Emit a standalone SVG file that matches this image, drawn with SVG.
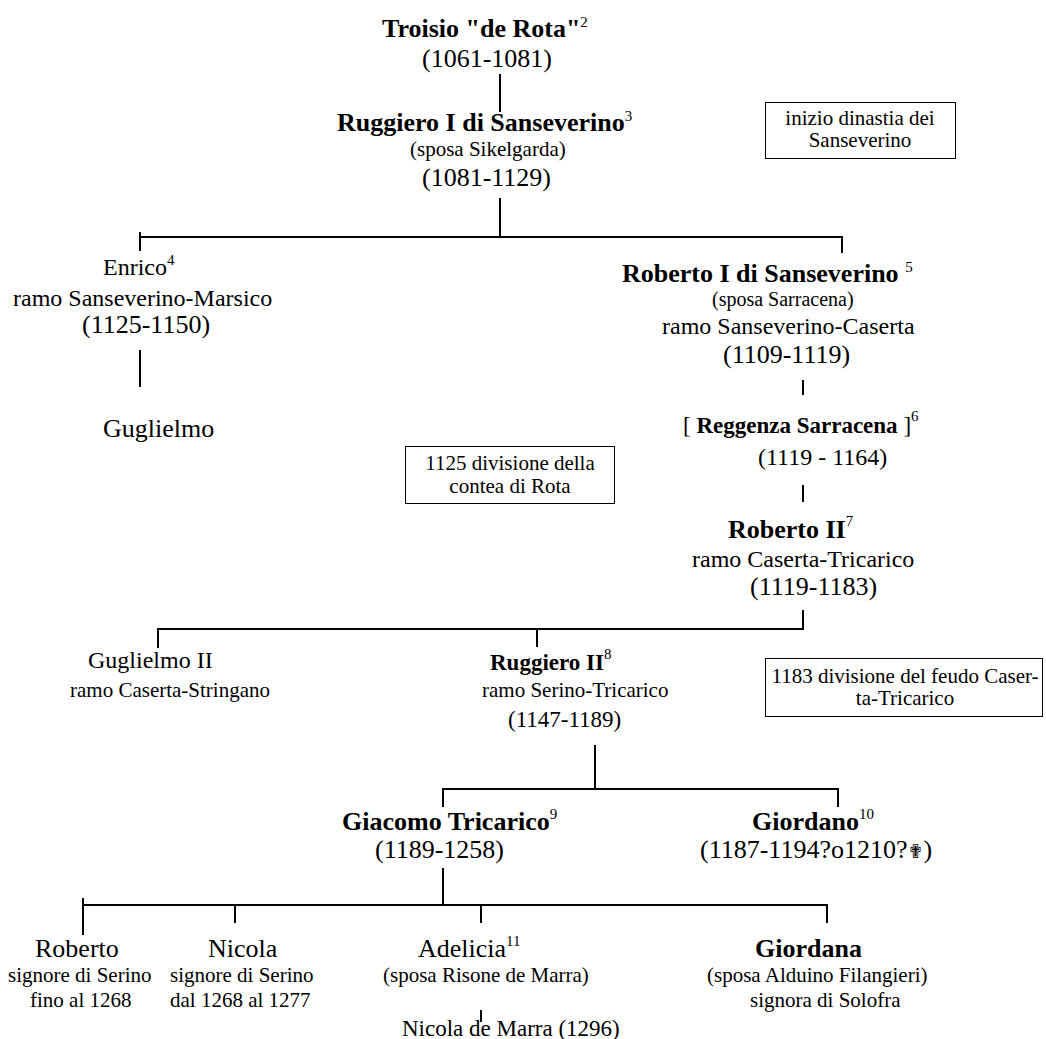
<svg xmlns="http://www.w3.org/2000/svg" width="1046" height="1039" viewBox="0 0 1046 1039">
<style>
text{font-family:"Liberation Serif","Times New Roman",serif;fill:#000}
.b{font-weight:bold;font-size:26px}
.r{font-size:24px}
.d{font-size:26px}
.s{font-size:21px}
.sup{font-size:15px;font-weight:normal}
.l{stroke:#000;stroke-width:2;fill:none}
.box{fill:#fff;stroke:#000;stroke-width:1}
</style>
<rect width="1046" height="1039" fill="#fff"/>
<g id="connectors">
<line class="l" x1="500" y1="74" x2="500" y2="112"/>
<line class="l" x1="500" y1="198" x2="500" y2="237"/>
<line class="l" x1="140" y1="237" x2="842" y2="237"/>
<line class="l" x1="140" y1="232" x2="140" y2="251"/>
<line class="l" x1="842" y1="236" x2="842" y2="253"/>
<line class="l" x1="140" y1="350" x2="140" y2="387"/>
<line class="l" x1="803" y1="380" x2="803" y2="395"/>
<line class="l" x1="803" y1="485" x2="803" y2="502"/>
<line class="l" x1="803" y1="610" x2="803" y2="630"/>
<line class="l" x1="158" y1="629" x2="803" y2="629"/>
<line class="l" x1="158" y1="628" x2="158" y2="648"/>
<line class="l" x1="537" y1="629" x2="537" y2="647"/>
<line class="l" x1="595" y1="745" x2="595" y2="789"/>
<line class="l" x1="443" y1="789" x2="838" y2="789"/>
<line class="l" x1="443" y1="788" x2="443" y2="807"/>
<line class="l" x1="838" y1="788" x2="838" y2="807"/>
<line class="l" x1="443" y1="868" x2="443" y2="905"/>
<line class="l" x1="83" y1="905" x2="827" y2="905"/>
<line class="l" x1="83" y1="898" x2="83" y2="935"/>
<line class="l" x1="235" y1="905" x2="235" y2="923"/>
<line class="l" x1="481" y1="905" x2="481" y2="923"/>
<line class="l" x1="827" y1="904" x2="827" y2="923"/>
<line class="l" x1="481" y1="1010" x2="481" y2="1022"/>
</g>
<g id="troisio">
<text x="382" y="37" class="b">Troisio "de Rota"<tspan class="sup" dy="-10">2</tspan></text>
<text x="422" y="67" class="d">(1061-1081)</text>
</g>
<g id="ruggiero1">
<text x="337" y="131" class="b">Ruggiero I di Sanseverino<tspan class="sup" dy="-10">3</tspan></text>
<text x="410" y="156" class="s">(sposa Sikelgarda)</text>
<text x="422" y="186" class="d">(1081-1129)</text>
</g>
<g id="note-inizio">
<rect class="box" x="765.5" y="102.5" width="190" height="56"/>
<text x="860" y="125" class="s" text-anchor="middle">inizio dinastia dei</text>
<text x="860" y="147" class="s" text-anchor="middle">Sanseverino</text>
</g>
<g id="enrico">
<text x="103" y="275" class="r">Enrico<tspan class="sup" dy="-10">4</tspan></text>
<text x="13" y="306" class="r">ramo Sanseverino-Marsico</text>
<text x="82" y="333" class="d">(1125-1150)</text>
</g>
<g id="guglielmo">
<text x="103" y="437" class="d">Guglielmo</text>
</g>
<g id="roberto1">
<text x="622" y="282" class="b">Roberto I di Sanseverino <tspan class="sup" dy="-10">5</tspan></text>
<text x="712" y="306" style="font-size:20px">(sposa Sarracena)</text>
<text x="662" y="334" class="r">ramo Sanseverino-Caserta</text>
<text x="723" y="363" class="d">(1109-1119)</text>
</g>
<g id="reggenza">
<text x="683" y="433" style="font-size:23px">[ <tspan font-weight="bold">Reggenza Sarracena</tspan> ]<tspan class="sup" dy="-12">6</tspan></text>
<text x="758" y="465" class="r">(1119 - 1164)</text>
</g>
<g id="note-1125">
<rect class="box" x="405.5" y="446.5" width="209" height="57"/>
<text x="510" y="470" class="s" text-anchor="middle">1125 divisione della</text>
<text x="510" y="493" class="s" text-anchor="middle">contea di Rota</text>
</g>
<g id="roberto2">
<text x="728" y="538" class="b">Roberto II<tspan class="sup" dy="-12">7</tspan></text>
<text x="692" y="567" class="r">ramo Caserta-Tricarico</text>
<text x="750" y="595" class="d">(1119-1183)</text>
</g>
<g id="guglielmo2">
<text x="88" y="668" class="r">Guglielmo II</text>
<text x="70" y="697" class="s">ramo Caserta-Stringano</text>
</g>
<g id="ruggiero2">
<text x="490" y="670" style="font-size:23px;font-weight:bold">Ruggiero II<tspan class="sup" dy="-11">8</tspan></text>
<text x="482" y="697" class="s">ramo Serino-Tricarico</text>
<text x="508" y="727" style="font-size:23px">(1147-1189)</text>
</g>
<g id="note-1183">
<rect class="box" x="765.5" y="658.5" width="277" height="58"/>
<text x="905" y="683" class="s" text-anchor="middle">1183 divisione del feudo Caser-</text>
<text x="905" y="705" class="s" text-anchor="middle">ta-Tricarico</text>
</g>
<g id="giacomo">
<text x="342" y="830" class="b">Giacomo Tricarico<tspan class="sup" dy="-11">9</tspan></text>
<text x="375" y="858" class="d">(1189-1258)</text>
</g>
<g id="giordano">
<text x="752" y="830" class="b">Giordano<tspan class="sup" dy="-11">10</tspan></text>
<text x="700" y="858" class="d">(1187-1194?o1210?<tspan font-family="DejaVu Sans" font-size="19px">✟</tspan>)</text>
</g>
<g id="roberto">
<text x="35" y="957" class="d">Roberto</text>
<text x="8" y="982" class="s">signore di Serino</text>
<text x="30" y="1007" class="s">fino al 1268</text>
</g>
<g id="nicola">
<text x="208" y="957" class="d">Nicola</text>
<text x="170" y="982" class="s">signore di Serino</text>
<text x="170" y="1007" class="s">dal 1268 al 1277</text>
</g>
<g id="adelicia">
<text x="418" y="957" class="d">Adelicia<tspan class="sup" dy="-11">11</tspan></text>
<text x="383" y="982" class="s">(sposa Risone de Marra)</text>
</g>
<g id="nicola-de-marra">
<text x="402" y="1036" style="font-size:23px">Nicola de Marra (1296)</text>
</g>
<g id="giordana">
<text x="755" y="957" class="b">Giordana</text>
<text x="707" y="982" class="s">(sposa Alduino Filangieri)</text>
<text x="750" y="1007" class="s">signora di Solofra</text>
</g>
</svg>
